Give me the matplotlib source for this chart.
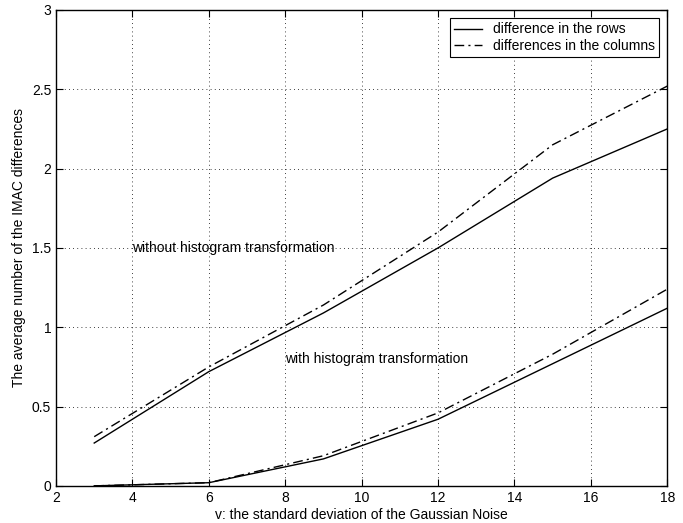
import matplotlib
matplotlib.use("Agg")
import matplotlib.pyplot as plt

plt.rcParams['font.family'] = ['Liberation Sans', 'DejaVu Sans']

# noise std values
v = [3, 6, 9, 12, 15, 18]

# without histogram transformation
rows_without = [0.27, 0.72, 1.09, 1.50, 1.94, 2.25]
cols_without = [0.31, 0.75, 1.14, 1.60, 2.15, 2.52]

# with histogram transformation
rows_with = [0.0, 0.02, 0.17, 0.42, 0.77, 1.12]
cols_with = [0.0, 0.02, 0.19, 0.46, 0.83, 1.24]

dashdot = (0, (7, 3, 1.5, 3))

fig = plt.figure(figsize=(6.83, 5.23), dpi=100)
ax = fig.add_axes([0.082, 0.071, 0.895, 0.91])

ax.plot(v, rows_without, color='black', lw=1.0, ls='-', label='difference in the rows')
ax.plot(v, cols_without, color='black', lw=1.0, ls=dashdot, label='differences in the columns')
ax.plot(v, rows_with, color='black', lw=1.0, ls='-')
ax.plot(v, cols_with, color='black', lw=1.0, ls=dashdot)

ax.text(4, 1.5, 'without histogram transformation', fontsize=10, va='center', ha='left')
ax.text(8, 0.8, 'with histogram transformation', fontsize=10, va='center', ha='left')

ax.set_xlim(2, 18)
ax.set_ylim(0, 3)
ax.set_xticks(range(2, 19, 2))
ax.set_yticks([0, 0.5, 1, 1.5, 2, 2.5, 3])
ax.set_yticklabels(['0', '0.5', '1', '1.5', '2', '2.5', '3'])
ax.tick_params(direction='in', top=True, right=True, labelsize=10, length=5, width=0.8)
ax.grid(True, ls=(0, (1, 4)), color='black', lw=0.6)
for s in ax.spines.values():
    s.set_linewidth(1.0)

ax.set_xlabel('v: the standard deviation of the Gaussian Noise', fontsize=10, labelpad=2)
ax.set_ylabel('The average number of the IMAC differences', fontsize=10, labelpad=4)

leg = ax.legend(loc='upper right', fontsize=10, fancybox=False, edgecolor='black',
                framealpha=1, borderaxespad=0.6, handlelength=2.0, borderpad=0.3,
                labelspacing=0.2)
leg.get_frame().set_linewidth(0.8)

fig.savefig('out.png', dpi=100)
